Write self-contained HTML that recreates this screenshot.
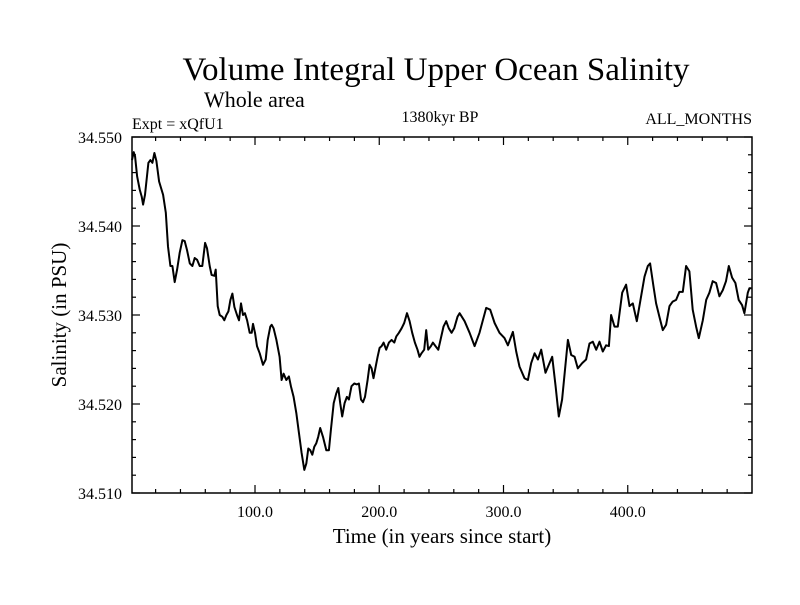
<!DOCTYPE html>
<html><head><meta charset="utf-8"><style>
body{margin:0;background:#fff;}
svg text{font-family:"Liberation Serif",serif;fill:#000;}
</style></head><body>
<svg id="chart" width="800" height="600" viewBox="0 0 800 600" xmlns="http://www.w3.org/2000/svg">
<rect width="800" height="600" fill="#fff"/>
<text x="436" y="80" font-size="33" text-anchor="middle">Volume Integral Upper Ocean Salinity</text>
<text x="204" y="107" font-size="22">Whole area</text>
<text x="132" y="129" font-size="16">Expt = xQfU1</text>
<text x="440" y="122" font-size="16" text-anchor="middle">1380kyr BP</text>
<text x="752" y="124" font-size="16" text-anchor="end">ALL_MONTHS</text>
<text x="442" y="543" font-size="21" text-anchor="middle">Time (in years since start)</text>
<text transform="translate(66,315) rotate(-90)" font-size="21" text-anchor="middle">Salinity (in PSU)</text>
<g id="axes"></g>
<path id="series" fill="none" stroke="#000" stroke-width="2" stroke-linejoin="round"/>
<rect x="132" y="137" width="620" height="356" fill="none" stroke="#000" stroke-width="1.5"/>
</svg>
<script>
const years=[1,2.4,3.5,5.1,7.2,8.8,9.9,11.5,14.2,15.8,17.4,19,20.6,22.8,26,28.2,30,31.9,33.5,35.4,37.3,39.4,41.6,43.4,45.3,47.5,49.6,51.5,53.4,55.5,57.6,59.8,61.4,63.5,65.1,67.3,68.4,70,71.6,73.7,75.3,77,78.6,80.2,81.8,83.4,85.5,87.1,88.7,90.3,91.9,93.6,95.7,97.3,98.4,100,101.6,103.8,106.4,108.6,110.2,112.3,113.4,115,117.2,119.8,121.4,123,125.2,127.3,128.9,131.1,133.2,135.4,137.5,139.7,141.3,142.9,144.5,146.1,147.7,149.3,150.9,152.5,154.7,157.4,159.5,161.1,163.3,165.4,167,168.6,170.2,172.1,174,175.6,177.7,179.9,182,183.6,185.3,186.9,188.5,190.6,192.2,193.8,195.4,197.1,198.7,200.3,201.9,203.5,205.6,207.8,209.9,212.1,213.7,215.8,218,220.1,222.3,224.4,226.5,228.7,230.8,232.4,234,236.2,237.8,239.4,241.6,243.2,245.3,247.5,249.6,251.7,253.9,256,258.2,260.3,263,264.7,268.7,272.7,276.7,280.7,286.1,289.3,292.8,296.8,300.8,303.5,307.6,310.2,312.9,316.9,319.6,322.3,325,327.7,330.3,333.8,337,339.2,341.9,344.5,347.2,351.8,354.5,357.2,359.8,363.3,366.5,369.2,371.9,374.6,377.3,379.9,382.6,384.8,386.6,389.3,392,395.5,398.7,401.4,404.1,407.3,410,413.5,416.1,418,420.7,422.8,425.5,428.2,430.9,433.6,436.2,438.9,441.6,444.3,447,449.6,452.3,455,457.2,460.4,463.1,465.7,468.4,471.1,473.8,476.5,479.1,481.3,484,486.6,489.3,492,493.9,496.6,497.9,499.5];
const salinity=[34.5474,34.5483,34.5478,34.5456,34.5441,34.5433,34.5424,34.5435,34.5471,34.5474,34.5471,34.5482,34.5473,34.5450,34.5435,34.5415,34.5377,34.5355,34.5355,34.5337,34.5351,34.5370,34.5384,34.5383,34.5373,34.5358,34.5355,34.5364,34.5362,34.5355,34.5355,34.5381,34.5375,34.5355,34.5345,34.5344,34.5351,34.5310,34.5300,34.5298,34.5294,34.5300,34.5304,34.5317,34.5324,34.5309,34.5300,34.5294,34.5313,34.5300,34.5302,34.5294,34.5280,34.5280,34.5290,34.5280,34.5265,34.5257,34.5244,34.5250,34.5272,34.5287,34.5289,34.5285,34.5272,34.5253,34.5227,34.5234,34.5227,34.5231,34.5220,34.5208,34.5190,34.5167,34.5145,34.5126,34.5133,34.5150,34.5148,34.5143,34.5152,34.5156,34.5163,34.5173,34.5163,34.5148,34.5148,34.5171,34.5201,34.5212,34.5218,34.5201,34.5186,34.5201,34.5208,34.5205,34.5220,34.5223,34.5222,34.5223,34.5205,34.5202,34.5208,34.5227,34.5244,34.5240,34.5229,34.5242,34.5253,34.5263,34.5265,34.5269,34.5261,34.5269,34.5272,34.5269,34.5276,34.5280,34.5285,34.5291,34.5302,34.5293,34.5280,34.5269,34.5261,34.5253,34.5257,34.5261,34.5283,34.5261,34.5265,34.5269,34.5265,34.5261,34.5274,34.5287,34.5293,34.5285,34.5280,34.5285,34.5298,34.5302,34.5293,34.5280,34.5265,34.5280,34.5308,34.5306,34.5291,34.5280,34.5274,34.5266,34.5281,34.5259,34.5242,34.5229,34.5227,34.5246,34.5257,34.5250,34.5261,34.5235,34.5246,34.5253,34.5220,34.5186,34.5205,34.5272,34.5255,34.5253,34.5240,34.5246,34.5250,34.5268,34.5270,34.5261,34.5270,34.5259,34.5266,34.5265,34.5300,34.5287,34.5287,34.5325,34.5334,34.5310,34.5313,34.5293,34.5315,34.5343,34.5355,34.5358,34.5332,34.5313,34.5298,34.5283,34.5289,34.5310,34.5315,34.5317,34.5326,34.5326,34.5355,34.5349,34.5306,34.5287,34.5274,34.5294,34.5317,34.5325,34.5338,34.5336,34.5321,34.5328,34.5338,34.5355,34.5342,34.5336,34.5317,34.5311,34.5302,34.5325,34.5330,34.5330];
const xTickValues=[100,200,300,400];
const xTickLabels=["100.0","200.0","300.0","400.0"];
const yTickValues=[34.51,34.52,34.53,34.54,34.55];
const yTickLabels=["34.510","34.520","34.530","34.540","34.550"];
const X0=132,X1=752,Y0=493,Y1=137,XMIN=1,XMAX=500,YMIN=34.51,YMAX=34.55;
function xs(v){return X0+(v-XMIN)/(XMAX-XMIN)*(X1-X0);}
function ys(v){return Y0-(v-YMIN)/(YMAX-YMIN)*(Y0-Y1);}
const NS="http://www.w3.org/2000/svg";
const axes=document.getElementById('axes');
function line(x1,y1,x2,y2,name){const l=document.createElementNS(NS,'line');
l.setAttribute('x1',x1);l.setAttribute('y1',y1);l.setAttribute('x2',x2);l.setAttribute('y2',y2);
l.setAttribute('stroke','#000');l.setAttribute('stroke-width','1.2');


axes.appendChild(l);}
function text(x,y,s,anchor,name){const t=document.createElementNS(NS,'text');
t.setAttribute('x',x);t.setAttribute('y',y);t.setAttribute('font-size','16');t.setAttribute('text-anchor',anchor);t.textContent=s;


axes.appendChild(t);}
for(let v=20;v<XMAX;v+=20){const x=xs(v);const major=v%100===0;const L=major?8:4;
line(x,Y0,x,Y0-L,'x-tick');line(x,Y1,x,Y1+L,'x-tick-top');}
xTickValues.forEach((v,i)=>text(xs(v),517,xTickLabels[i],'middle','x-tick-label'));
for(let k=0;k<=20;k++){const v=YMIN+k*0.002;const y=ys(v);const major=k%5===0;const L=major?8:4;
line(X0,y,X0+L,y,'y-tick');line(X1,y,X1-L,y,'y-tick-right');}
yTickValues.forEach((v,i)=>text(122,ys(v)+6,yTickLabels[i],'end','y-tick-label'));
let d='';years.forEach((t,i)=>{d+=(i?'L':'M')+xs(t).toFixed(1)+','+ys(salinity[i]).toFixed(1);});
document.getElementById('series').setAttribute('d',d);
</script>
</body></html>
